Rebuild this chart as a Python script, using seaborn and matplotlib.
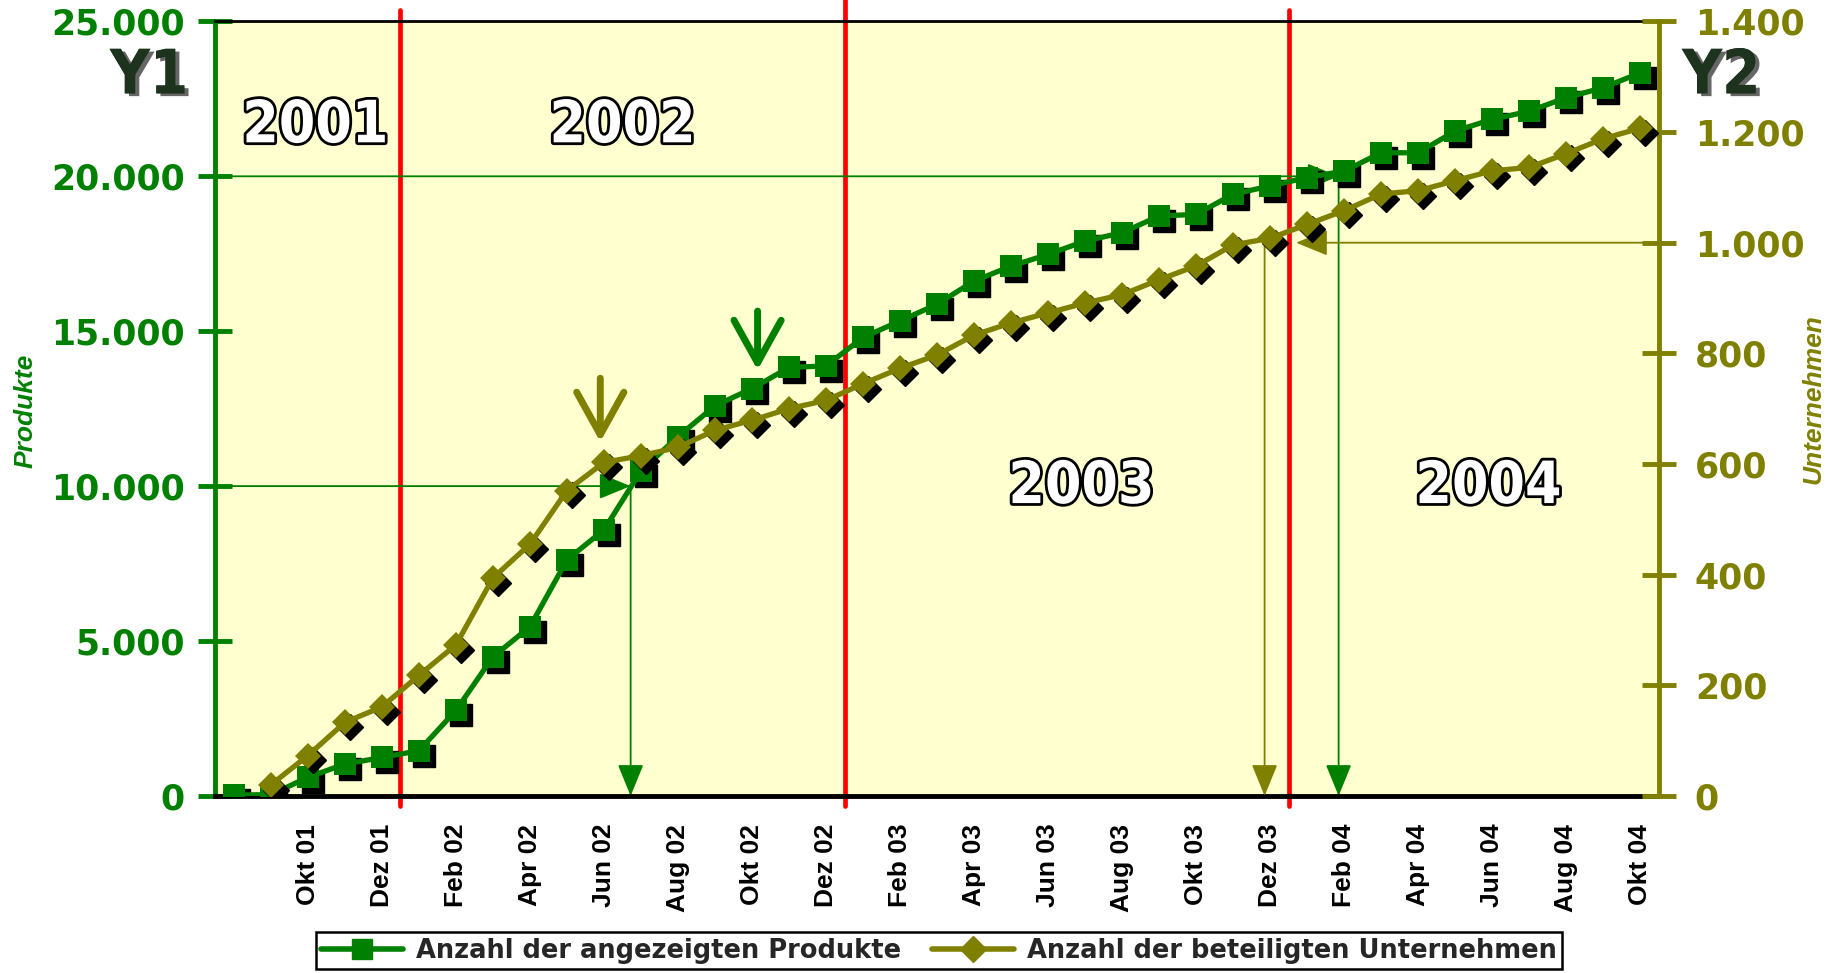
import matplotlib
matplotlib.use('Agg')
import matplotlib.pyplot as plt
import matplotlib.patheffects as pe
from matplotlib.lines import Line2D
from matplotlib.transforms import ScaledTranslation
from matplotlib.ticker import FixedLocator, FuncFormatter
import numpy as np
import pandas as pd
import seaborn as sns

# Monthly data Aug 01 - Okt 04
months = ['Aug 01', 'Sep 01', 'Okt 01', 'Nov 01', 'Dez 01',
          'Jan 02', 'Feb 02', 'Mär 02', 'Apr 02', 'Mai 02', 'Jun 02',
          'Jul 02', 'Aug 02', 'Sep 02', 'Okt 02', 'Nov 02', 'Dez 02',
          'Jan 03', 'Feb 03', 'Mär 03', 'Apr 03', 'Mai 03', 'Jun 03',
          'Jul 03', 'Aug 03', 'Sep 03', 'Okt 03', 'Nov 03', 'Dez 03',
          'Jan 04', 'Feb 04', 'Mär 04', 'Apr 04', 'Mai 04', 'Jun 04',
          'Jul 04', 'Aug 04', 'Sep 04', 'Okt 04']
produkte = [30, 40, 600, 1030, 1240, 1460, 2760, 4490, 5460, 7620, 8590,
            10490, 11600, 12590, 13150, 13830, 13880, 14800, 15330, 15870,
            16620, 17100, 17480, 17910, 18180, 18720, 18770, 19420, 19690,
            19960, 20170, 20760, 20760, 21460, 21840, 22100, 22540, 22860,
            23340]
unternehmen = [np.nan, 20, 73, 133, 161, 218, 273, 394, 455, 552, 603,
               615, 630, 661, 679, 700, 715, 745, 773, 797, 833, 855, 873,
               891, 906, 933, 958, 996, 1008, 1033, 1058, 1088, 1094, 1112,
               1130, 1136, 1161, 1188, 1207]
shown_labels = ['Okt 01', 'Dez 01', 'Feb 02', 'Apr 02', 'Jun 02', 'Aug 02',
                'Okt 02', 'Dez 02', 'Feb 03', 'Apr 03', 'Jun 03', 'Aug 03',
                'Okt 03', 'Dez 03', 'Feb 04', 'Apr 04', 'Jun 04', 'Aug 04',
                'Okt 04']
year_labels = ['2001', '2002', '2003', '2004']

df = pd.DataFrame({'pos': np.arange(len(months)), 'Monat': months,
                   'Produkte': produkte, 'Unternehmen': unternehmen})

green = '#008000'
olive = '#808000'
red = '#FF0000'

sns.set_style('white')
plt.rcParams['font.family'] = ['Liberation Sans', 'DejaVu Sans']

fig = plt.figure(figsize=(18.41, 9.73), dpi=100)
ax = fig.add_axes([0.117, 0.182, 0.784, 0.796])
ax.set_facecolor('#FFFFD0')
ax2 = ax.twinx()
ax2.patch.set_visible(False)

shadow = ScaledTranslation(3.5 / 72, -3.5 / 72, fig.dpi_scale_trans)

# year separators
for xb, top in [(4.5, 25380), (16.5, 25700), (28.5, 25380)]:
    ax.plot([xb, xb], [-330, top], color=red, lw=3.4, clip_on=False,
            zorder=2, solid_capstyle='round')

# Produkte
ax.plot(df['pos'], df['Produkte'], ls='none', marker='s', ms=16,
        color='black', transform=ax.transData + shadow, zorder=3)
sns.lineplot(data=df, x='pos', y='Produkte', ax=ax, color=green, lw=3.8,
             marker='s', markersize=16, markeredgewidth=0, zorder=4,
             legend=False)

# Unternehmen
d2 = df.dropna()
ax2.plot(d2['pos'], d2['Unternehmen'], ls='none', marker='D', ms=13,
         color='black', transform=ax2.transData + shadow, zorder=3)
sns.lineplot(data=d2, x='pos', y='Unternehmen', ax=ax2, color=olive, lw=3.8,
             marker='D', markersize=13, markeredgewidth=0, zorder=4,
             legend=False)

# milestone arrows
thin = dict(arrowstyle='-|>,head_length=1.1,head_width=0.45',
            mutation_scale=18, lw=1.3, shrinkA=0, shrinkB=0)
ax.annotate('', xy=(10.72, 10000), xytext=(-0.5, 10000),
            arrowprops=dict(color=green, **thin), zorder=2)
ax.annotate('', xy=(10.72, 0), xytext=(10.72, 10000),
            arrowprops=dict(color=green, **thin), zorder=2)
ax.annotate('', xy=(29.85, 20000), xytext=(-0.5, 20000),
            arrowprops=dict(color=green, **thin), zorder=2)
ax.annotate('', xy=(29.85, 0), xytext=(29.85, 20000),
            arrowprops=dict(color=green, **thin), zorder=2)
ax2.annotate('', xy=(28.7, 1000), xytext=(38.5, 1000),
             arrowprops=dict(color=olive, **thin), zorder=2)
ax2.annotate('', xy=(27.85, 0), xytext=(27.85, 1000),
             arrowprops=dict(color=olive, **thin), zorder=2)

# callout arrows
thick = dict(arrowstyle='->,head_length=0.9,head_width=0.5',
             mutation_scale=34, lw=5, shrinkA=0, shrinkB=0)
ax2.annotate('', xy=(9.9, 640), xytext=(9.9, 755),
             arrowprops=dict(color=olive, **thick), zorder=6)
ax.annotate('', xy=(14.15, 13750), xytext=(14.15, 15650),
            arrowprops=dict(color=green, **thick), zorder=6)

# axes limits / ticks
ax.set_xlim(-0.5, len(months) - 0.5)
ax.set_ylim(0, 25000)
ax2.set_ylim(0, 1400)

label_pos = [months.index(m) for m in shown_labels]
ax.xaxis.set_major_locator(FixedLocator(label_pos))
ax.set_xticklabels(shown_labels, rotation=90, fontsize=19,
                   fontweight='bold', color='black')
ax.xaxis.set_minor_locator(FixedLocator(np.arange(-0.5, len(months), 1.0)))
ax.tick_params(axis='x', which='major', length=0, pad=20)
ax.tick_params(axis='x', which='minor', direction='inout', length=16,
               width=3, color='black')

dotfmt = FuncFormatter(lambda v, p: f'{int(v):,}'.replace(',', '.'))
ax.set_yticks(np.arange(0, 25001, 5000))
ax.yaxis.set_major_formatter(dotfmt)
ax.tick_params(axis='y', direction='inout', length=24, width=3.5,
               color=green, labelcolor=green, labelsize=25, pad=10)
for t in ax.get_yticklabels():
    t.set_fontweight('bold')
    t.set_family('DejaVu Sans')

ax2.set_yticks(np.arange(0, 1401, 200))
ax2.yaxis.set_major_formatter(dotfmt)
ax2.tick_params(axis='y', direction='inout', length=24, width=3.5,
                color=olive, labelcolor=olive, labelsize=25, pad=14)
for t in ax2.get_yticklabels():
    t.set_fontweight('bold')
    t.set_family('DejaVu Sans')

ax.set_xlabel('')
ax.set_ylabel('')
ax2.set_ylabel('')

ax.spines['right'].set_visible(False)
ax.spines['left'].set_color(green)
ax.spines['left'].set_linewidth(3.5)
ax.spines['bottom'].set_color('black')
ax.spines['bottom'].set_linewidth(3.5)
ax.spines['top'].set_color('black')
ax.spines['top'].set_linewidth(2)
for s in ['left', 'top', 'bottom']:
    ax2.spines[s].set_visible(False)
ax2.spines['right'].set_color(olive)
ax2.spines['right'].set_linewidth(3.5)
ax.set_zorder(1)
ax2.set_zorder(2)

# axis titles
fig.text(0.014, 0.578, 'Produkte', rotation=90, color=green, fontsize=19,
         fontweight='bold', fontstyle='italic', ha='center', va='center')
fig.text(0.985, 0.59, 'Unternehmen', rotation=90, color=olive, fontsize=19,
         fontweight='bold', fontstyle='italic', ha='center', va='center')

# Y1 / Y2 marks
fx = [pe.withSimplePatchShadow(offset=(3, -2), shadow_rgbFace='#555555',
                               alpha=0.9), pe.Normal()]
for x, s in [(0.081, 'Y1'), (0.935, 'Y2')]:
    fig.text(x, 0.921, s, color='#1E331E', fontsize=44, fontweight='bold',
             family='DejaVu Sans', fontstretch='condensed',
             ha='center', va='center', path_effects=fx)

# year labels
outline = [pe.withStroke(linewidth=4, foreground='black')]
for (x, y), s in zip([(2.2, 21630), (10.5, 21630), (22.9, 9985),
                      (33.9, 9985)], year_labels):
    ax2.text(x, y * 1400 / 25000, s, color='white', fontsize=42,
             fontweight='bold', family='DejaVu Sans', fontstretch='condensed',
             ha='center', va='center', path_effects=outline, zorder=7)

# legend
handles = [Line2D([], [], color=green, lw=4, marker='s', ms=15),
           Line2D([], [], color=olive, lw=4, marker='D', ms=13)]
leg = fig.legend(handles, ['Anzahl der angezeigten Produkte',
                           'Anzahl der beteiligten Unternehmen'],
                 loc='center', bbox_to_anchor=(0.51, 0.023), ncol=2,
                 frameon=True, fancybox=False, edgecolor='black',
                 framealpha=1, borderpad=0.2, handlelength=3.2,
                 columnspacing=1.2, handletextpad=0.5,
                 prop=dict(weight='bold', size=18.5, family='DejaVu Sans'))
leg.get_frame().set_linewidth(1.8)

fig.savefig('out.png', dpi=100)
